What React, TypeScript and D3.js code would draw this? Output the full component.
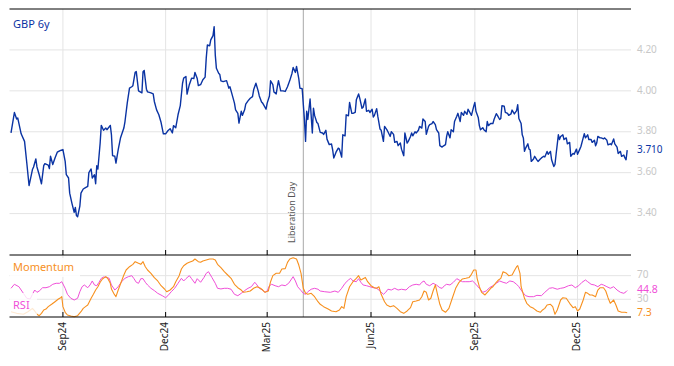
import React from "react";
import * as d3 from "d3";

// day offsets from 2024-07-01 and values
const BASE_DATE = new Date(2024, 6, 1);

const priceSeries: [number, number][] = [[16,3.794],[19,3.894],[21,3.862],[22,3.867],[25,3.79],[28,3.753],[30,3.647],[32,3.537],[35,3.615],[36,3.628],[38,3.667],[39,3.628],[41,3.59],[43,3.546],[45,3.634],[46,3.644],[49,3.637],[50,3.62],[51,3.68],[53,3.64],[55,3.672],[57,3.70],[60,3.709],[62,3.713],[64,3.655],[65,3.59],[67,3.574],[68,3.50],[70,3.45],[72,3.406],[73,3.43],[74,3.39],[75,3.384],[77,3.436],[78,3.50],[80,3.52],[82,3.527],[84,3.533],[85,3.60],[87,3.618],[88,3.574],[90,3.59],[91,3.546],[92,3.634],[93,3.618],[95,3.745],[96,3.831],[98,3.807],[100,3.818],[101,3.81],[104,3.831],[105,3.785],[106,3.683],[108,3.68],[109,3.647],[111,3.713],[113,3.769],[116,3.818],[117,3.85],[119,3.94],[121,4.013],[123,4.02],[124,4.025],[126,4.09],[127,4.094],[129,4.0],[132,3.99],[133,4.094],[134,4.10],[136,4.008],[137,3.995],[140,3.99],[142,3.985],[143,3.948],[145,3.907],[147,3.883],[149,3.845],[151,3.79],[153,3.79],[155,3.805],[157,3.815],[159,3.794],[160,3.83],[162,3.82],[164,3.883],[166,3.928],[168,4.037],[169,4.062],[171,4.07],[172,3.984],[174,4.03],[176,4.062],[178,4.06],[179,4.09],[181,4.06],[182,4.026],[184,4.03],[186,4.054],[188,4.067],[189,4.16],[190,4.224],[192,4.22],[193,4.249],[195,4.27],[196,4.314],[197,4.176],[198,4.11],[200,4.086],[201,4.08],[202,4.049],[204,4.045],[207,4.05],[209,4.013],[210,4.02],[212,3.98],[214,3.94],[215,3.907],[217,3.89],[218,3.842],[220,3.90],[221,3.88],[223,3.907],[224,3.935],[226,3.951],[228,3.964],[230,3.972],[231,4.005],[233,4.037],[235,4.0],[236,3.975],[238,3.945],[239,3.94],[240,3.93],[242,3.91],[243,3.94],[245,3.975],[246,4.049],[248,4.03],[249,3.994],[251,3.985],[252,4.02],[253,4.05],[255,4.0],[257,4.0],[259,3.997],[261,4.02],[263,4.05],[265,4.086],[266,4.114],[268,4.09],[269,4.119],[271,4.06],[272,4.013],[274,4.01],[276,3.86],[277,3.753],[278,3.90],[279,3.86],[281,3.96],[283,3.794],[284,3.915],[285,3.88],[287,3.845],[288,3.84],[290,3.797],[292,3.794],[293,3.787],[295,3.807],[296,3.764],[298,3.737],[300,3.74],[301,3.712],[302,3.672],[304,3.70],[306,3.72],[307,3.715],[309,3.676],[310,3.785],[312,3.78],[313,3.883],[315,3.878],[316,3.943],[318,3.89],[319,3.89],[321,3.895],[322,3.956],[324,3.985],[325,3.964],[327,3.915],[328,3.92],[330,3.96],[331,3.90],[333,3.905],[334,3.894],[336,3.91],[337,3.872],[338,3.88],[340,3.913],[341,3.876],[343,3.813],[344,3.807],[346,3.753],[347,3.826],[349,3.81],[350,3.80],[352,3.777],[353,3.80],[355,3.787],[356,3.748],[358,3.753],[359,3.732],[361,3.745],[362,3.715],[364,3.683],[365,3.794],[367,3.745],[368,3.753],[370,3.777],[371,3.794],[372,3.78],[374,3.80],[375,3.794],[377,3.807],[378,3.826],[380,3.818],[381,3.862],[383,3.85],[384,3.787],[386,3.826],[387,3.835],[389,3.84],[390,3.85],[392,3.835],[393,3.81],[395,3.794],[396,3.732],[398,3.725],[399,3.73],[401,3.737],[402,3.777],[403,3.80],[405,3.77],[406,3.81],[408,3.80],[409,3.85],[411,3.876],[412,3.89],[414,3.85],[415,3.894],[417,3.88],[418,3.90],[420,3.885],[421,3.91],[423,3.89],[424,3.88],[426,3.924],[427,3.943],[428,3.90],[430,3.87],[431,3.83],[432,3.81],[434,3.82],[435,3.81],[437,3.80],[438,3.85],[439,3.83],[441,3.84],[443,3.84],[444,3.86],[446,3.888],[447,3.88],[449,3.86],[450,3.865],[451,3.927],[453,3.925],[454,3.895],[456,3.89],[457,3.88],[459,3.887],[460,3.906],[462,3.887],[464,3.903],[465,3.932],[466,3.865],[468,3.84],[469,3.785],[470,3.77],[471,3.704],[472,3.72],[474,3.741],[475,3.715],[476,3.712],[477,3.655],[479,3.667],[480,3.68],[482,3.663],[483,3.655],[485,3.667],[486,3.672],[488,3.68],[489,3.677],[491,3.704],[492,3.69],[494,3.704],[495,3.663],[497,3.63],[498,3.64],[499,3.69],[501,3.785],[502,3.762],[503,3.777],[505,3.785],[506,3.762],[508,3.77],[509,3.741],[511,3.748],[512,3.68],[514,3.694],[515,3.69],[517,3.715],[518,3.69],[520,3.715],[521,3.728],[523,3.77],[524,3.79],[525,3.77],[527,3.785],[528,3.762],[530,3.762],[531,3.748],[533,3.758],[534,3.731],[535,3.745],[536,3.777],[538,3.77],[539,3.77],[541,3.765],[542,3.77],[544,3.758],[545,3.736],[547,3.741],[548,3.736],[550,3.765],[551,3.741],[553,3.725],[554,3.694],[556,3.704],[557,3.68],[559,3.686],[560,3.672],[561,3.663],[562,3.71]];

const rsiSeries: [number, number][] = [[16,48.6],[19,55.4],[23,51.3],[27,40.1],[30,31.7],[33,30.5],[35,38.4],[37,45.7],[39,41.8],[41,44],[44,49.6],[47,49.6],[50,51.3],[53,55.4],[56,57.1],[59,57.1],[61,59.8],[64,48.6],[66,38.4],[69,31.7],[72,28.8],[75,31.7],[77,42.8],[79,51.3],[81,54.2],[84,49.6],[86,54.2],[88,61],[90,54.2],[92,53],[94,58.8],[96,65.5],[98,67.7],[101,67],[103,65.5],[105,54.2],[108,45.7],[111,51.3],[114,59.8],[117,65.5],[120,68.3],[123,70],[125,64.9],[127,58.8],[129,57.1],[131,64.9],[133,64.9],[135,58.8],[137,54.2],[140,48.6],[143,44.7],[146,40.1],[150,36.1],[153,32.7],[155,36.1],[158,42.8],[161,48.6],[164,57.1],[167,65.5],[169,61],[171,64.9],[174,70],[176,64.9],[179,57.1],[181,64.9],[184,58.8],[187,67],[189,74],[191,76.7],[194,67],[197,57.1],[199,48.6],[202,47.5],[205,48.6],[208,48.6],[211,47],[214,38.4],[217,36.1],[220,40.1],[223,44.7],[226,48.6],[229,51.3],[232,58.8],[234,54.2],[236,48.6],[239,45.7],[241,41.8],[243,44],[245,53],[247,55.4],[250,53],[253,51.3],[256,54.2],[259,53],[262,57.1],[264,62.7],[266,68.3],[268,61],[270,51.3],[273,44.7],[275,40.1],[277,38.4],[279,42.8],[282,47],[285,48.6],[288,47],[290,44],[294,42.8],[299,41.8],[303,44],[306,41.8],[309,48.6],[312,57.1],[315,62.7],[317,65.5],[319,61],[322,59.8],[324,64.9],[326,58.8],[328,54.2],[331,53],[334,51.3],[337,49.6],[340,48.6],[343,44],[346,38.4],[348,41.8],[350,47],[353,45.7],[356,48.6],[359,45.7],[362,47],[366,45.7],[369,51.3],[372,54.2],[375,55.4],[378,54.2],[380,58.8],[382,61],[384,55.4],[387,53],[390,57.1],[393,54.2],[396,49.6],[398,48.6],[400,53],[402,55.4],[405,54.2],[408,58.8],[411,64.9],[413,62.7],[416,59.8],[419,59.8],[422,59.8],[425,61],[428,55.4],[431,48.6],[434,41.8],[437,44],[440,49.6],[443,53],[446,57.1],[449,61],[452,58.8],[455,57.1],[458,61],[461,59.8],[464,55.4],[466,51.3],[469,42.8],[472,36.1],[475,34.4],[479,34.4],[482,36.7],[486,36.1],[489,41.8],[493,48.6],[496,49.6],[500,47],[503,48.6],[506,49.6],[510,53],[513,54.2],[516,49.6],[519,53],[522,58.8],[525,62.7],[527,59.8],[530,55.4],[533,54.2],[536,51.3],[539,55.4],[541,54.2],[544,51.3],[547,48.6],[550,51.3],[553,45.7],[556,41.8],[559,40.1],[561,42.8],[562,44.8]];

const momentumSeries: [number, number][] = [[16,9],[21,6.2],[27,4.6],[31,9],[35,14.7],[37,10.2],[39,4.6],[41,2.2],[43,6.2],[45,11.9],[47,13.5],[49,17.5],[52,21.5],[55,25.9],[58,30.5],[60,32.7],[61,34.4],[62,17.5],[64,8],[66,3.4],[69,1.7],[72,0.5],[75,2.2],[78,9],[80,14.7],[82,17.5],[84,20.3],[87,31.7],[89,38.4],[91,45.7],[93,51.3],[95,58.8],[97,64.4],[100,68.3],[102,64.4],[104,57.1],[105,47.4],[107,40.1],[109,34.4],[111,45.7],[114,61],[116,71.1],[118,79.6],[121,85.2],[124,89.2],[126,93.7],[129,90.9],[131,89.2],[133,93.7],[135,85.2],[137,79.6],[140,74],[143,66.6],[146,61],[149,53],[152,47.4],[154,42.8],[157,45.7],[160,51.3],[162,59.8],[165,70],[167,81.3],[169,86.9],[172,90.9],[174,92.6],[177,94.8],[179,98.2],[182,93.7],[184,92.6],[186,94.8],[189,96.5],[192,98.2],[195,98.2],[197,96.5],[199,89.2],[202,83.5],[205,76.7],[208,71.1],[211,65.5],[214,55.4],[217,49.6],[220,45.7],[222,41.8],[225,42.8],[228,44],[231,48.6],[234,51.3],[237,48.6],[239,45.7],[241,41.8],[244,44],[246,59.8],[248,70],[251,74],[254,74],[256,81.3],[259,82],[261,92.6],[263,98.2],[266,100.4],[269,98.2],[271,88],[273,74],[275,48.6],[277,40.1],[279,38.4],[282,40.1],[285,34.4],[288,25.9],[290,21.5],[293,17.5],[297,13.5],[300,10.2],[304,9],[307,11.9],[309,17.5],[311,14.7],[313,34.4],[316,51.3],[319,59.8],[322,65.5],[324,70],[326,62.7],[328,64.9],[330,67],[332,59.8],[335,53],[338,49.6],[340,48.6],[342,51.3],[344,38.4],[347,25.9],[349,20.3],[352,17.5],[355,19.2],[358,14.7],[361,9],[364,6.2],[367,10.2],[370,15.8],[372,25.9],[375,27.1],[378,28.8],[380,34.4],[382,44],[384,41.8],[386,28.8],[388,31.7],[390,44],[392,54.2],[394,37.3],[396,21.5],[398,11.9],[401,8],[404,14.7],[407,31.7],[410,48.6],[413,58.8],[416,64.4],[419,65.5],[422,67],[424,72.3],[426,79.6],[428,79.6],[429,65.5],[431,51.3],[433,41.8],[436,37.3],[439,44],[441,48.6],[443,51.3],[446,58.8],[448,62.7],[450,65.5],[452,76.7],[455,74],[457,70],[460,71.1],[462,78.5],[464,85.2],[465,86.9],[467,74],[468,51.3],[471,31.7],[473,23.2],[476,17.5],[479,14.7],[482,10.2],[485,8],[487,11.9],[489,14.7],[491,20.3],[494,21.5],[496,17.5],[498,4.6],[500,11.9],[503,28.8],[505,32.7],[508,31.7],[511,23.2],[514,15.8],[516,17.5],[518,10.2],[520,13.5],[523,28.8],[525,41.8],[527,40.1],[529,37.3],[531,37.3],[534,34.4],[536,45.7],[538,49.6],[541,49.6],[543,44],[545,32.7],[547,23.2],[550,28.8],[552,20.3],[554,10.2],[557,8],[560,8],[562,7.3]];

const xTickDates = ["2024-09-01", "2024-12-01", "2025-03-01", "2025-06-01", "2025-09-01", "2025-12-01"];
const priceTicks = [3.4, 3.6, 3.8, 4.0, 4.2];
const indTicks = [30, 70];
const eventDate = "2025-04-02";
const eventLabel = "Liberation Day";
const seriesName = "GBP 6y";
const lastPriceLabel = "3.710";
const lastRsiLabel = "44.8";
const lastMomLabel = "7.3";

const W = 674, H = 366;
const LEFT = 9.5, RIGHT = 631;
const TOP = 9, MID = 255, BOT = 317;
const BLUE = "#0a33a3";
const ORANGE = "#f7901e";
const MAGENTA = "#f04fd8";
const GRID = "#e4e4e4";
const FONT = "'Noto Sans', 'DejaVu Sans', sans-serif";

const toDate = (d: number) => d3.timeDay.offset(BASE_DATE, d);
const parse = d3.timeParse("%Y-%m-%d");

export default function App() {
  const x = d3.scaleTime()
    .domain([toDate(16), toDate(562)])
    .range([11, 627.2]);
  const y = d3.scaleLinear().domain([3.2, 4.4]).range([254.5, TOP]);
  const yi = d3.scaleLinear().domain([0, 105]).range([BOT, MID]);

  const priceLine = d3.line<[number, number]>()
    .x((d) => x(toDate(d[0])))
    .y((d) => y(d[1]));
  const indLine = d3.line<[number, number]>()
    .x((d) => x(toDate(d[0])))
    .y((d) => yi(d[1]));

  const ticks = xTickDates.map((s) => parse(s)!);
  const fmt = d3.timeFormat("%b%y");
  const ex = x(parse(eventDate)!);
  const lastP = priceSeries[priceSeries.length - 1];
  const lastR = rsiSeries[rsiSeries.length - 1];
  const lastM = momentumSeries[momentumSeries.length - 1];

  return (
    <svg width={W} height={H} style={{ position: "absolute", left: 0, top: 0, background: "#fff" }} fontFamily={FONT}>
      {/* gridlines */}
      {priceTicks.map((t) => (
        <line key={"pg" + t} x1={LEFT} x2={RIGHT} y1={y(t)} y2={y(t)} stroke={GRID} strokeWidth={1} />
      ))}
      {indTicks.map((t) => (
        <line key={"ig" + t} x1={LEFT} x2={RIGHT} y1={yi(t)} y2={yi(t)} stroke={GRID} strokeWidth={1} />
      ))}
      {ticks.map((t, i) => (
        <line key={"vg" + i} x1={x(t)} x2={x(t)} y1={TOP} y2={BOT} stroke={GRID} strokeWidth={1} />
      ))}
      {/* event line */}
      <line x1={ex} x2={ex} y1={TOP} y2={BOT} stroke="#a8a8a8" strokeWidth={1} />
      <text
        transform={`translate(${ex - 11},243) rotate(-90)`}
        fontSize={9}
        fill="#555"
        dominantBaseline="middle"
        textAnchor="start"
      >
        {eventLabel}
      </text>

      {/* series */}
      <path d={priceLine(priceSeries) || ""} fill="none" stroke={BLUE} strokeWidth={1.4} strokeLinejoin="round" />
      <path d={indLine(rsiSeries) || ""} fill="none" stroke={MAGENTA} strokeWidth={1} strokeLinejoin="round" />
      <path d={indLine(momentumSeries) || ""} fill="none" stroke={ORANGE} strokeWidth={1.1} strokeLinejoin="round" />

      {/* label boxes */}
      <rect x={10} y={258} width={70} height={19} fill="#fff" opacity={0.85} />
      <rect x={10} y={293} width={27} height={23} fill="#fff" opacity={0.8} />
      <text x={13} y={268} fontSize={11} fill={ORANGE} dominantBaseline="middle">Momentum</text>
      <text x={13} y={306} fontSize={11} fill={MAGENTA} dominantBaseline="middle">RSI</text>
      <text x={13} y={25} fontSize={11} fill={BLUE} dominantBaseline="middle">{seriesName}</text>

      {/* panel borders */}
      <line x1={LEFT} x2={RIGHT} y1={TOP} y2={TOP} stroke="#000" strokeWidth={1} />
      <line x1={LEFT} x2={RIGHT} y1={MID} y2={MID} stroke="#000" strokeWidth={1} />
      <line x1={LEFT} x2={RIGHT} y1={BOT} y2={BOT} stroke="#000" strokeWidth={1} />
      {ticks.map((t, i) => (
        <g key={"tk" + i}>
          <line x1={x(t)} x2={x(t)} y1={MID - 5} y2={MID} stroke="#000" strokeWidth={1} />
          <line x1={x(t)} x2={x(t)} y1={BOT - 5} y2={BOT} stroke="#000" strokeWidth={1} />
        </g>
      ))}

      {/* right axis labels */}
      {priceTicks.map((t) => (
        <text key={"pl" + t} x={637} y={y(t)} fontSize={10} fill="#c8c8c8" dominantBaseline="middle">
          {d3.format(".2f")(t)}
        </text>
      ))}
      {indTicks.map((t) => (
        <text key={"il" + t} x={637} y={yi(t)} fontSize={10} fill="#c8c8c8" dominantBaseline="middle">
          {t}
        </text>
      ))}
      <text x={637} y={y(lastP[1])} fontSize={10} fill={BLUE} dominantBaseline="middle">{lastPriceLabel}</text>
      <text x={637} y={yi(lastR[1])} fontSize={10.5} fill={MAGENTA} dominantBaseline="middle">{lastRsiLabel}</text>
      <text x={637} y={yi(lastM[1])} fontSize={10.5} fill={ORANGE} dominantBaseline="middle">{lastMomLabel}</text>

      {/* x labels */}
      {ticks.map((t, i) => (
        <text
          key={"xl" + i}
          transform={`translate(${x(t)},322) rotate(-90)`}
          fontSize={10}
          fill="#222"
          textAnchor="end"
          dominantBaseline="middle"
        >
          {fmt(t)}
        </text>
      ))}
    </svg>
  );
}
